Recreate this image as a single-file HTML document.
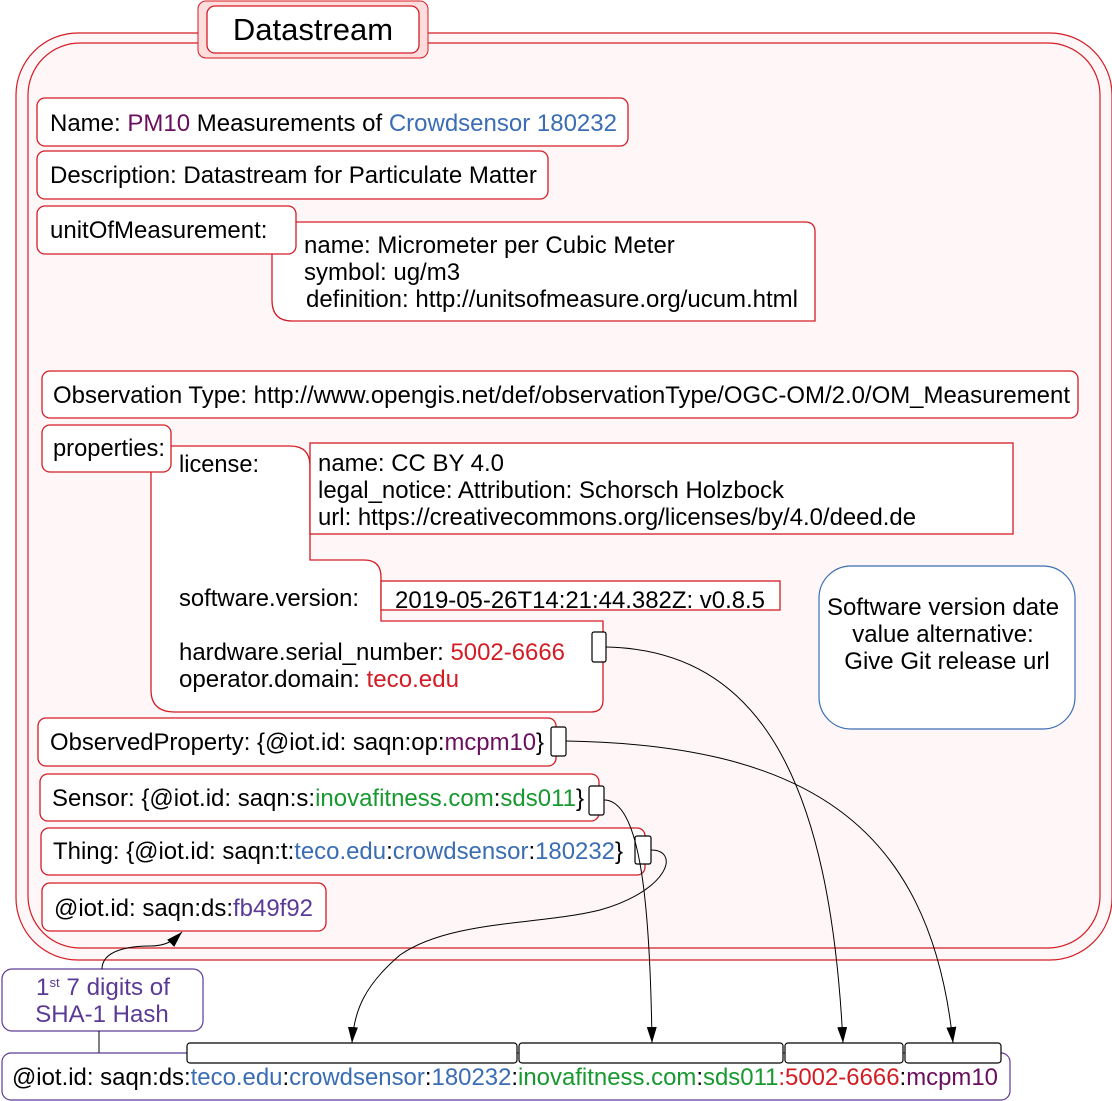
<!DOCTYPE html>
<html><head><meta charset="utf-8"><style>
html,body{margin:0;padding:0;background:#fff}
svg{display:block}
text{font-family:"Liberation Sans",sans-serif;font-size:24px;fill:#000}
.r{fill:#fff;stroke:#d41c24;stroke-width:1.3}
.k{fill:#fff;stroke:#000;stroke-width:1.2}
.pu{fill:#6a0f5e}.bl{fill:#3a6db3}.gr{fill:#17992f}.rd{fill:#d41c24}.vi{fill:#5b3a96}
.ln{fill:none;stroke:#000;stroke-width:1}
</style></head><body>
<svg width="1112" height="1101" viewBox="0 0 1112 1101" xmlns="http://www.w3.org/2000/svg">
<defs><marker id="ah" viewBox="0 0 16 10" refX="16" refY="5" markerWidth="16" markerHeight="10" orient="auto" markerUnits="userSpaceOnUse"><path d="M0,0 L16,5 L0,10 Z" fill="#000"/></marker></defs>

<g>
<rect x="16" y="33" width="1096" height="927" rx="62" fill="#fff7f7" stroke="#d41c24" stroke-width="1.2"/>
<rect x="28" y="43" width="1072" height="905" rx="52" fill="#fff7f7" stroke="#d41c24" stroke-width="1.2"/>
</g>
<g>
<rect x="198" y="1" width="230" height="57" rx="8" fill="#fdd" stroke="#d41c24" stroke-width="1"/>
<rect x="207" y="6" width="212" height="47" rx="8" class="r"/>
<text x="313" y="40" text-anchor="middle" style="font-size:31px">Datastream</text>
</g>

<g>
<rect x="37" y="98" width="591" height="48" rx="8" class="r"/>
<text x="50" y="131">Name: <tspan class="pu">PM10</tspan> Measurements of <tspan class="bl">Crowdsensor 180232</tspan></text>
</g>
<g>
<rect x="37" y="151" width="511" height="48" rx="8" class="r"/>
<text x="50" y="183">Description: Datastream for Particulate Matter</text>
</g>
<g>
<path d="M296,222 H805 Q815,222 815,232 V321 H292 Q272,321 272,300 V254" class="r"/>
<rect x="37" y="206" width="259" height="48" rx="8" class="r"/>
<text x="50" y="238">unitOfMeasurement:</text>
<text x="304" y="253">name: Micrometer per Cubic Meter</text>
<text x="304" y="280">symbol: ug/m3</text>
<text x="306" y="307" textLength="492" lengthAdjust="spacingAndGlyphs">definition: http://unitsofmeasure.org/ucum.html</text>
</g>
<g>
<rect x="42" y="371" width="1036" height="47" rx="8" class="r"/>
<text x="53" y="403" textLength="1017" lengthAdjust="spacingAndGlyphs">Observation Type: http://www.opengis.net/def/observationType/OGC-OM/2.0/OM_Measurement</text>
</g>

<g>
<path d="M171,446 H290 Q310,446 310,466 V560 H364 Q381,560 381,577 V621 H603 V700 Q603,712 591,712 H175 Q151,712 151,690 V472" class="r"/>
<rect x="42" y="425" width="129" height="47" rx="8" class="r"/>
<text x="53" y="456" textLength="112" lengthAdjust="spacingAndGlyphs">properties:</text>
<rect x="310" y="443" width="703" height="91" class="r" style="fill:#fff"/>
<text x="179" y="472" textLength="80" lengthAdjust="spacingAndGlyphs">license:</text>
<text x="318" y="471" textLength="186" lengthAdjust="spacingAndGlyphs">name: CC BY 4.0</text>
<text x="318" y="498" textLength="466" lengthAdjust="spacingAndGlyphs">legal_notice: Attribution: Schorsch Holzbock</text>
<text x="318" y="525" textLength="598" lengthAdjust="spacingAndGlyphs">url: https://creativecommons.org/licenses/by/4.0/deed.de</text>
<rect x="381" y="581" width="399" height="29" class="r"/>
<text x="179" y="606" textLength="180" lengthAdjust="spacingAndGlyphs">software.version:</text>
<text x="395" y="608" textLength="370" lengthAdjust="spacingAndGlyphs">2019-05-26T14:21:44.382Z: v0.8.5</text>
<text x="179" y="660" textLength="386" lengthAdjust="spacingAndGlyphs">hardware.serial_number: <tspan class="rd">5002-6666</tspan></text>
<text x="179" y="687" textLength="280" lengthAdjust="spacingAndGlyphs">operator.domain: <tspan class="rd">teco.edu</tspan></text>
<rect x="592" y="632" width="14" height="30" rx="2" class="k"/>
</g>

<g>
<rect x="819" y="566" width="256" height="163" rx="32" fill="#fff" stroke="#3a6db3" stroke-width="1.2"/>
<text x="943" y="615" text-anchor="middle">Software version date</text>
<text x="943" y="642" text-anchor="middle">value alternative:</text>
<text x="947" y="669" text-anchor="middle">Give Git release url</text>
</g>

<g>
<rect x="38" y="718" width="518" height="48" rx="8" class="r"/>
<text x="50" y="750" textLength="494" lengthAdjust="spacingAndGlyphs">ObservedProperty: {@iot.id: saqn:op:<tspan class="pu">mcpm10</tspan>}</text>
<rect x="551" y="727" width="15" height="29" rx="2" class="k"/>
</g>
<g>
<rect x="40" y="774" width="559" height="47" rx="8" class="r"/>
<text x="52" y="806" textLength="532" lengthAdjust="spacingAndGlyphs">Sensor: {@iot.id: saqn:s:<tspan class="gr">inovafitness.com</tspan>:<tspan class="gr">sds011</tspan>}</text>
<rect x="589" y="786" width="15" height="29" rx="2" class="k"/>
</g>
<g>
<rect x="41" y="828" width="604" height="47" rx="8" class="r"/>
<text x="53" y="859" textLength="570" lengthAdjust="spacingAndGlyphs">Thing: {@iot.id: saqn:t:<tspan class="bl">teco.edu</tspan>:<tspan class="bl">crowdsensor</tspan>:<tspan class="bl">180232</tspan>}</text>
<rect x="635" y="836" width="16" height="28" rx="2" class="k"/>
</g>
<g>
<rect x="42" y="883" width="284" height="48" rx="8" class="r"/>
<text x="54" y="916" textLength="259" lengthAdjust="spacingAndGlyphs">@iot.id: saqn:ds:<tspan class="vi">fb49f92</tspan></text>
</g>

<g>
<rect x="2" y="969" width="201" height="62" rx="10" fill="#fff" stroke="#5b3a96" stroke-width="1.2"/>
<text x="36" y="995" class="vi" textLength="134" lengthAdjust="spacingAndGlyphs">1<tspan dy="-8" style="font-size:13px">st</tspan><tspan dy="8"> 7 digits of</tspan></text>
<text x="102" y="1022" text-anchor="middle" class="vi">SHA-1 Hash</text>
<path d="M99,1031 V1053" class="ln"/>
<path d="M102,969 C102,950 130,946 150,946 C165,946 172,942 182,932" class="ln" marker-end="url(#ah)"/>
</g>

<g>
<rect x="2" y="1053" width="1008" height="47" rx="9" fill="#fff" stroke="#5b3a96" stroke-width="1.2"/>
<rect x="187" y="1043" width="330" height="20" rx="3" class="k"/>
<rect x="519" y="1043" width="264" height="20" rx="3" class="k"/>
<rect x="785" y="1043" width="118" height="20" rx="3" class="k"/>
<rect x="905" y="1043" width="96" height="20" rx="3" class="k"/>
<text x="12" y="1085" textLength="986" lengthAdjust="spacingAndGlyphs">@iot.id: saqn:ds:<tspan class="bl">teco.edu</tspan>:<tspan class="bl">crowdsensor</tspan>:<tspan class="bl">180232</tspan>:<tspan class="gr">inovafitness.com</tspan>:<tspan class="gr">sds011</tspan><tspan class="rd">:5002-6666</tspan>:<tspan class="pu">mcpm10</tspan></text>
</g>

<g>
<path d="M651,850 C680,850 670,890 600,910 C540,925 450,920 400,955 C365,985 354,1010 352,1043" class="ln" marker-end="url(#ah)"/>
<path d="M604,800 C640,800 650,900 652,1043" class="ln" marker-end="url(#ah)"/>
<path d="M606,647 C760,650 830,780 843,1043" class="ln" marker-end="url(#ah)"/>
<path d="M566,741 C800,745 930,820 953,1043" class="ln" marker-end="url(#ah)"/>
</g>
</svg>
</body></html>
